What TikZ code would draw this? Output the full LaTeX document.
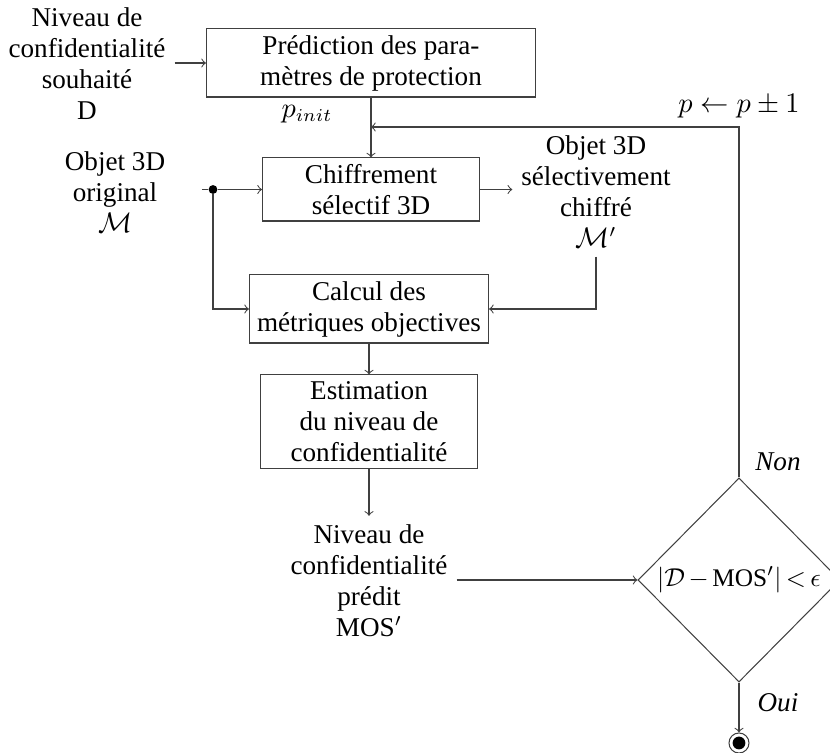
\documentclass[tikz,border=0pt]{standalone}
\usepackage{fontspec}
\setmainfont{Liberation Serif}
\usetikzlibrary{shapes.geometric}
\begin{document}
\begin{tikzpicture}[x=0.0136cm,y=-0.0136cm,
  font=\fontsize{10.5}{12}\selectfont,
  box/.style={draw=black!75, thin, align=center, inner sep=0pt},
  lbl/.style={align=center},
  conn/.style={draw=black!75, thin, ->},
  wire/.style={draw=black!75, thin},
  junction/.style={circle, fill=black, inner sep=0pt, minimum size=0.12cm},
  decision/.style={diamond, draw=black!75, thin, inner sep=0pt,
    minimum width=2.747cm, minimum height=2.774cm,
    font=\fontsize{9.8}{12}\selectfont,
    execute at begin node={\medmuskip=2.5mu\thickmuskip=3mu}},
  finish/.style={circle, draw=black!75, thin, inner sep=0pt, minimum size=0.272cm}]
\useasboundingbox (0,0) rectangle (830,753);

% process boxes
\node[box, minimum width=4.474cm, minimum height=0.925cm] (pred) at (371,63)
  {Prédiction des para-\\mètres de protection};
\node[box, minimum width=2.951cm, minimum height=0.857cm] (chif) at (371,189.5)
  {Chiffrement\\sélectif 3D};
\node[box, minimum width=3.250cm, minimum height=0.925cm] (calc) at (369,309)
  {Calcul des\\métriques objectives};
\node[box, minimum width=2.951cm, minimum height=1.265cm] (estim) at (369,421.5)
  {Estimation\\du niveau de\\confidentialité};
\node[decision] (test) at (739,580) {$|\mathcal{D}-\mathrm{MOS}'|<\epsilon$};
\node[finish] (fin) at (739,743) {};
\fill (fin.center) circle (0.087cm);

% data labels
\node[lbl] (souh) at (87,64) {Niveau de\\confidentialité\\souhaité\\D};
\node[lbl] (orig) at (115,192) {Objet 3D\\original\\$\mathcal{M}$};
\node[lbl] (obj) at (596,191.5) {Objet 3D\\sélectivement\\chiffré\\$\mathcal{M}'$};
\node[lbl] (mos) at (369,581) {Niveau de\\confidentialité\\prédit\\MOS$'$};
\node[lbl] (pinit) at (307,114) {$p_{init}$};
\node[lbl] (non) at (778,462) {\textit{Non}};
\node[lbl] (oui) at (778,703) {\textit{Oui}};

% junction on the original object
\coordinate (src) at (202,189.5);
\node[junction] (jn) at (213,189.5) {};
\coordinate (fb) at (739,127);
\node[lbl, above] (plbl) at (fb) {$p \leftarrow p \pm 1$};

% connectors
\draw[conn] (souh.east |- pred.west) -- (pred.west);
\draw[conn] (pred.south) -- (chif.north);
\draw[wire] (src) -- (jn);
\draw[conn] (jn) -- (chif.west);
\draw[conn] (jn) |- (calc.west);
\draw[conn] (chif.east) -- (obj.west |- chif.east);
\draw[conn] (obj.south) |- (calc.east);
\draw[conn] (calc.south) -- (estim.north);
\draw[conn] (estim.south) -- (mos.north);
\draw[conn] (mos.east |- test.west) -- (test.west);
\draw[conn] (test.north) -- (fb) -- (pred.south |- fb);
\draw[conn] (test.south) -- (fin.north);
\end{tikzpicture}
\end{document}
